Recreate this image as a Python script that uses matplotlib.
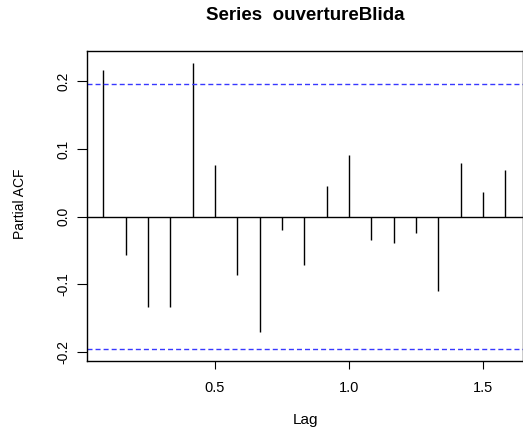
import matplotlib
matplotlib.use("Agg")
import matplotlib.pyplot as plt
import numpy as np

plt.rcParams['font.family'] = ['Liberation Sans', 'DejaVu Sans']

title = "Series  ouvertureBlida"
xlabel = "Lag"
ylabel = "Partial ACF"
lags = [1/12, 2/12, 3/12, 4/12, 5/12, 6/12, 7/12, 8/12, 9/12, 10/12,
        11/12, 12/12, 13/12, 14/12, 15/12, 16/12, 17/12, 18/12, 19/12]
pacf = [0.217, -0.056, -0.133, -0.134, 0.227, 0.077, -0.086, -0.170, -0.019,
        -0.071, 0.046, 0.091, -0.034, -0.039, -0.024, -0.109, 0.079, 0.036, 0.069]
ci = 0.196
xticks = [0.5, 1.0, 1.5]
yticks = [-0.2, -0.1, 0.0, 0.1, 0.2]

W, H = 523, 432
fig = plt.figure(figsize=(W/100, H/100), dpi=100)
ax = fig.add_axes([86.7/W, 71/H, (522.5-86.7)/W, 310/H])

ax.vlines(lags, 0, pacf, colors='black', linewidth=1.0)
ax.axhline(0, color='black', linewidth=1.0)
for v in (ci, -ci):
    ax.axhline(v, color='#3838ff', linewidth=1.0, linestyle=(0, (3.6, 2.2)))

ax.set_xlim(0.021, 1.648)
ax.set_ylim(-0.2131, 0.2447)
ax.set_xticks(xticks)
ax.set_xticklabels([f"{t:.1f}" for t in xticks])
ax.set_yticks(yticks)
ax.set_yticklabels([f"{t:.1f}" for t in yticks], rotation=90, va='center')
ax.tick_params(axis='x', length=5.5, width=0.8, pad=9, labelsize=10.5)
ax.tick_params(axis='y', length=7, width=0.8, pad=5, labelsize=10)
for s in ax.spines.values():
    s.set_linewidth(1.0)
    s.set_color('black')

fig.text(305/W, 1-15/H, title, ha='center', va='center', fontsize=13.5, fontweight='bold')
fig.text(305/W, 1-420/H, xlabel, ha='center', va='center', fontsize=11)
fig.text(20/W, 1-204/H, ylabel, ha='center', va='center', fontsize=10, rotation=90)

fig.savefig("out.png", dpi=100)
